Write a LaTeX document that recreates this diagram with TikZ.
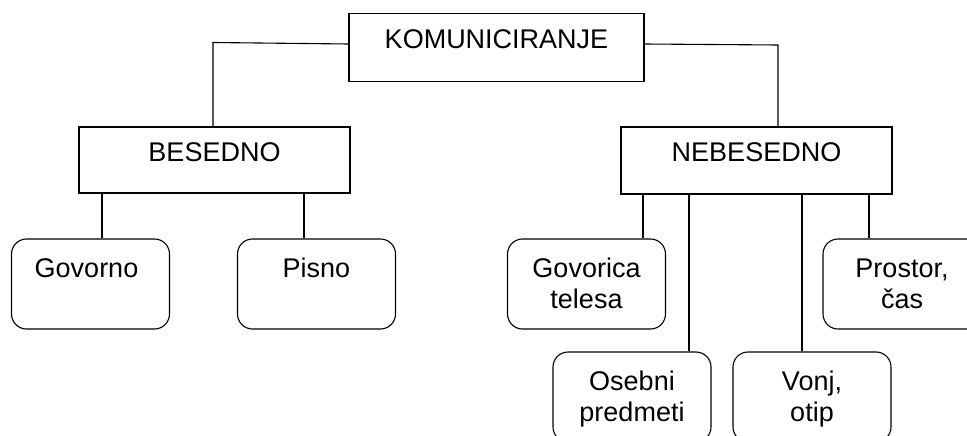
\documentclass[tikz,border=0pt]{standalone}
\usepackage{fontspec}
\setmainfont{Liberation Sans}
\begin{document}
\begin{tikzpicture}[x=1pt,y=-1pt,
  every node/.style={font=\fontsize{27}{31}\selectfont},
  sqbox/.style={draw, line width=1.1pt, rectangle, inner sep=0pt},
  rbox/.style={draw, line width=1.1pt, rectangle, rounded corners=15pt, inner sep=0pt,
    minimum width=158pt, minimum height=90pt},
  txt/.style={inner sep=0pt, anchor=base, align=center},
  link/.style={line width=1.1pt}]
\path[use as bounding box, clip] (0,0) rectangle (967,436);
\fill[white] (0,0) rectangle (967,436);

% top level
\node[sqbox, minimum width=295pt, minimum height=68pt] (k) at (496.5,47.5) {};
\node[txt] at ([yshift=-36pt]k.north) {KOMUNICIRANJE};

% second level
\node[sqbox, minimum width=271pt, minimum height=66pt] (b) at (214.5,160) {};
\node[txt] at ([yshift=-35pt]b.north) {BESEDNO};
\node[sqbox, minimum width=271pt, minimum height=67pt] (nb) at (756.5,160.5) {};
\node[txt] at ([yshift=-35pt]nb.north) {NEBESEDNO};

% leaves (the base of a two-line label sits on its last line)
\node[rbox] (gov) at (90.5,284) {};
\node[txt] at ([xshift=-4pt,yshift=-39pt]gov.north) {Govorno};
\node[rbox] (pis) at (316.5,284) {};
\node[txt] at ([yshift=-39pt]pis.north) {Pisno};
\node[rbox] (gt) at (586.5,284) {};
\node[txt] at ([yshift=-70pt]gt.north) {Govorica\\telesa};
\node[rbox] (pr) at (902,284) {};
\node[txt] at ([yshift=-70pt]pr.north) {Prostor,\\čas};
\node[rbox] (os) at (632,397) {};
\node[txt] at ([yshift=-70pt]os.north) {Osebni\\predmeti};
\node[rbox] (vo) at (812,397) {};
\node[txt] at ([yshift=-70pt]vo.north) {Vonj,\\otip};

% connectors
\coordinate (kl) at (213,42.5);
\coordinate (kr) at (778,45);
\draw[link] ([yshift=3.5pt]k.west) -- (kl) -- (kl |- b.north);
\draw[link] ([yshift=3.5pt]k.east) -- (kr) -- (kr |- nb.north);
\draw[link] ([xshift=11.5pt]gov.north) -- ([xshift=11.5pt]gov.north |- b.south);
\draw[link] ([xshift=-12.5pt]pis.north) -- ([xshift=-12.5pt]pis.north |- b.south);
\draw[link] ([xshift=56.5pt]gt.north) -- ([xshift=56.5pt]gt.north |- nb.south);
\draw[link] ([xshift=57pt]os.north) -- ([xshift=57pt]os.north |- nb.south);
\draw[link] ([xshift=-10pt]vo.north) -- ([xshift=-10pt]vo.north |- nb.south);
\draw[link] ([xshift=-33pt]pr.north) -- ([xshift=-33pt]pr.north |- nb.south);
\end{tikzpicture}
\end{document}
